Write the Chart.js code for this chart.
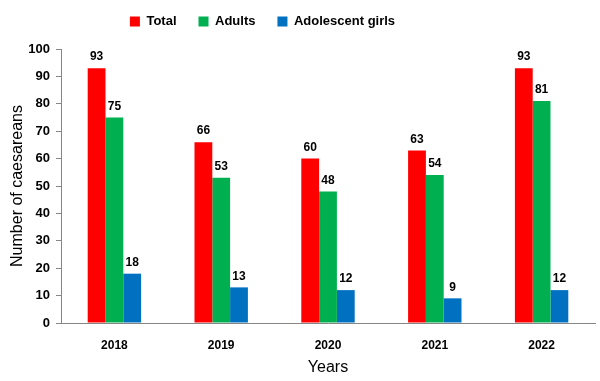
<!DOCTYPE html>
<html>
<head>
<meta charset="utf-8">
<script src="https://cdn.jsdelivr.net/npm/chart.js@4/dist/chart.umd.min.js"></script>
<style>
    html, body { margin: 0; padding: 0; background: #fff; }
    #wrap { width: 600px; height: 381px; }
</style>
</head>
<body>
<div id="wrap"><canvas id="chart"></canvas></div>
<script>
const years = ["2018", "2019", "2020", "2021", "2022"];
const total = [93, 66, 60, 63, 93];
const adults = [75, 53, 48, 54, 81];
const adolescentGirls = [18, 13, 12, 9, 12];

const FONT = "'Liberation Sans', Arial, sans-serif";

// value labels above each bar
const barLabels = {
    id: "barLabels",
    afterDatasetsDraw(chart) {
        const ctx = chart.ctx;
        ctx.save();
        ctx.font = "bold 12px " + FONT;
        ctx.fillStyle = "#000";
        ctx.textAlign = "center";
        ctx.textBaseline = "bottom";
        chart.data.datasets.forEach((ds, i) => {
            chart.getDatasetMeta(i).data.forEach((bar, j) => {
                ctx.fillText(ds.data[j], bar.x, bar.y - 5);
            });
        });
        ctx.restore();
    }
};

// the legend sits a bit left of centre and higher up in the original
const legendNudge = {
    id: "legendNudge",
    afterLayout(chart) {
        const lg = chart.legend;
        lg.left -= 37;
        lg.right -= 37;
        lg.top -= 11;
        lg.bottom -= 11;
    }
};

new Chart(document.getElementById("chart"), {
    type: "bar",
    data: {
        labels: years,
        datasets: [
            { label: "Total", data: total, backgroundColor: "#FF0000" },
            { label: "Adults", data: adults, backgroundColor: "#00B050" },
            { label: "Adolescent girls", data: adolescentGirls, backgroundColor: "#0070C0" }
        ]
    },
    options: {
        responsive: true,
        maintainAspectRatio: false,
        animation: false,
        categoryPercentage: 0.5,
        barPercentage: 1,
        layout: { padding: { top: 4, right: 5, left: 4, bottom: 0 } },
        plugins: {
            legend: {
                labels: {
                    boxWidth: 10,
                    boxHeight: 10,
                    padding: 22,
                    color: "#000",
                    font: { family: FONT, size: 13, weight: "bold" }
                }
            },
            tooltip: { enabled: false }
        },
        scales: {
            x: {
                grid: { display: false },
                border: { color: "#868686" },
                ticks: {
                    color: "#000",
                    padding: 7,
                    font: { family: FONT, size: 12, weight: "bold" }
                },
                title: {
                    display: true,
                    text: "Years",
                    color: "#000",
                    padding: { top: 2, bottom: 4 },
                    font: { family: FONT, size: 16 }
                },
                afterFit(scale) { scale.height = 58; }
            },
            y: {
                min: 0,
                max: 100,
                grid: { drawOnChartArea: false, tickLength: 5, color: "#868686" },
                border: { color: "#868686" },
                ticks: {
                    stepSize: 10,
                    color: "#000",
                    padding: 6,
                    font: { family: FONT, size: 13, weight: "bold" }
                },
                title: {
                    display: true,
                    text: "Number of caesareans",
                    color: "#000",
                    font: { family: FONT, size: 16 }
                },
                afterFit(scale) { scale.width = 57; }
            }
        }
    },
    plugins: [barLabels, legendNudge]
});
</script>
</body>
</html>
